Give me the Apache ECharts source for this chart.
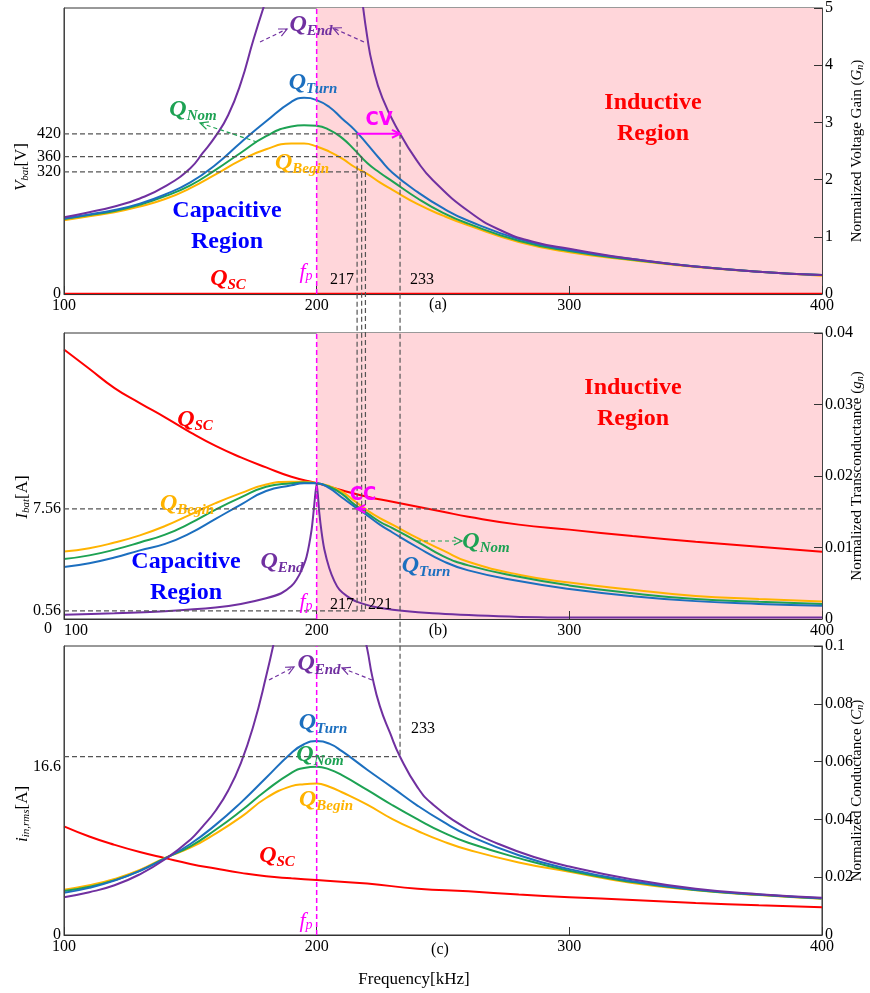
<!DOCTYPE html>
<html>
<head>
<meta charset="utf-8">
<title>Gain / transconductance / conductance vs frequency</title>
<script src="https://cdn.jsdelivr.net/npm/echarts@6.0.0/dist/echarts.min.js"></script>
<style>html,body{margin:0;padding:0;background:#fff;}</style>
</head>
<body>
<div id="main" style="width:870px;height:993px;"></div>
<script>
// ---- values ----
// panel (a): normalized voltage gain Gn
var freqA      = [100,110,120,130,140,150,160,170,180,190,195,200,205,210,215,220,225,230,240,250,260,280,300,325,350,375,400];
var gainTurnA  = [1.32,1.39,1.47,1.58,1.74,1.95,2.26,2.65,3.02,3.36,3.43,3.39,3.27,3.07,2.87,2.62,2.36,2.12,1.78,1.50,1.28,0.96,0.77,0.61,0.48,0.39,0.33];
var gainNomA   = [1.31,1.38,1.45,1.56,1.71,1.90,2.17,2.47,2.76,2.93,2.95,2.94,2.87,2.73,2.52,2.29,2.12,1.97,1.67,1.42,1.23,0.93,0.75,0.60,0.48,0.39,0.33];
var gainBeginA = [1.29,1.36,1.43,1.53,1.66,1.85,2.09,2.34,2.53,2.63,2.63,2.58,2.49,2.37,2.22,2.10,1.95,1.82,1.57,1.37,1.20,0.91,0.73,0.59,0.47,0.39,0.32];
var freqEndAL  = [100,110,120,130,140,150,155,160,165,170,175,180];
var gainEndAL  = [1.34,1.43,1.53,1.67,1.88,2.20,2.47,2.76,3.13,3.69,4.45,5.15];
var freqEndAR  = [218,220,222,226,233,240,246,260,273,286,300,325,350,375,400];
var gainEndAR  = [5.15,4.50,4.02,3.43,2.80,2.31,1.99,1.45,1.11,0.91,0.79,0.61,0.48,0.39,0.33];
var freqScA    = [100,400];
var gainScA    = [0,0];

// panel (b): normalized transconductance gn
var freqB      = [100,110,120,130,140,150,160,170,180,190,195,200,205,210,215,220,225,230,240,250,260,280,300,325,350,375,400];
var gnTurnB    = [0.00726,0.0078,0.0086,0.0096,0.0105,0.0120,0.0140,0.0160,0.0179,0.0187,0.0190,0.0190,0.0183,0.0170,0.0157,0.0145,0.0132,0.0121,0.0100,0.0081,0.0068,0.0053,0.0042,0.0032,0.0025,0.0021,0.00185];
var gnNomB     = [0.00838,0.0089,0.0097,0.0107,0.0118,0.0134,0.0153,0.0170,0.0185,0.0190,0.0191,0.0190,0.0185,0.0175,0.0160,0.0148,0.0136,0.0127,0.0108,0.0088,0.0075,0.0059,0.0047,0.0036,0.0028,0.0024,0.0021];
var gnBeginB   = [0.00944,0.0099,0.0107,0.0117,0.0130,0.0146,0.0162,0.0176,0.0188,0.0192,0.0192,0.0190,0.0186,0.0178,0.0165,0.0152,0.0141,0.0132,0.0113,0.0096,0.0080,0.0062,0.0051,0.0041,0.0032,0.0028,0.00245];
var freqEndB   = [100,120,140,160,170,180,186,190,192,194,196,198,199,200,201,202,203,205,207,209,212,216,226,246,272,300,350,400];
var gnEndB     = [0.0006,0.0008,0.0011,0.0016,0.0021,0.0029,0.0036,0.0046,0.0055,0.0068,0.0087,0.0125,0.0158,0.0190,0.0150,0.0120,0.0098,0.0071,0.0053,0.0041,0.0032,0.0024,0.0015,0.0008,0.0004,0.0002,0.0002,0.0002];
var freqScB    = [100,110,120,130,140,150,160,170,180,190,200,210,220,230,240,250,260,280,300,325,350,375,400];
var gnScB      = [0.0377,0.0350,0.0323,0.0302,0.0282,0.0261,0.0242,0.0226,0.0212,0.0199,0.0190,0.0180,0.0171,0.0164,0.0157,0.0150,0.0143,0.0132,0.0125,0.0116,0.0108,0.0101,0.0094];

// panel (c): normalized conductance Cn
var freqC      = [100,110,120,130,140,150,160,170,180,190,195,200,205,210,220,230,240,250,260,280,300,325,350,375,400];
var cnTurnC    = [0.0146,0.0163,0.0188,0.0222,0.0264,0.0315,0.0381,0.0458,0.0544,0.0630,0.0660,0.0671,0.0662,0.0636,0.0572,0.0510,0.0447,0.0392,0.0345,0.0276,0.0228,0.0186,0.0157,0.0140,0.0127];
var cnNomC     = [0.0152,0.0167,0.0190,0.0222,0.0266,0.0307,0.0364,0.0429,0.0500,0.0561,0.0578,0.0582,0.0573,0.0553,0.0502,0.0449,0.0400,0.0355,0.0319,0.0266,0.0222,0.0183,0.0156,0.0139,0.0126];
var cnBeginC   = [0.0157,0.0172,0.0194,0.0225,0.0267,0.0302,0.0351,0.0408,0.0474,0.0515,0.0522,0.0524,0.0513,0.0494,0.0451,0.0401,0.0360,0.0324,0.0295,0.0251,0.0219,0.0180,0.0155,0.0138,0.0125];
var freqEndCL  = [100,110,120,130,140,150,155,160,165,170,175,180,184];
var cnEndCL    = [0.0131,0.0148,0.0172,0.0210,0.0262,0.0330,0.0377,0.0430,0.0500,0.0595,0.0725,0.0895,0.1050];
var freqEndCR  = [218,220,222,225,229,233,240,246,260,272,286,300,325,350,375,400];
var cnEndCR    = [0.1060,0.0990,0.0895,0.0792,0.0700,0.0617,0.0510,0.0452,0.0365,0.0315,0.0270,0.0237,0.0192,0.0160,0.0141,0.0129];
var freqScC    = [100,110,120,130,140,150,160,170,180,190,200,220,240,260,280,300,325,350,375,400];
var cnScC      = [0.0376,0.0341,0.0312,0.0287,0.0266,0.0246,0.0230,0.0215,0.0203,0.0196,0.0190,0.0178,0.0160,0.0151,0.0140,0.0131,0.0121,0.0111,0.0103,0.0096];

// operating points
var fp = 200;
var vbatTicks = [0, 320, 360, 420];
var crossFreqs = [216, 217.8, 219.3];   // where 420 / 360 / 320 V are met
var crossVolts = [420, 360, 320];
var fEnd = 233;
var ibatTicks = [0.56, 7.56];
var iinTick = 16.6;

// left-axis full scales (same grid height as the right axes)
var vbatMax = 750, ibatMax = 19.63, iinMax = 26.9;

var COL = {end: '#7030A0', turn: '#1C6FBF', nom: '#1DA253', begin: '#FFB300', sc: '#FF0000'};
var FONT = "'Liberation Serif', 'Times New Roman', serif";
var NARROW = "'Liberation Sans Narrow', 'DejaVu Sans Condensed', sans-serif";
var PINK = '#FFD6DA';

var chart = echarts.init(document.getElementById('main'));

function pairs(xs, ys) {
    return xs.map(function (x, i) { return [x, ys[i]]; });
}

function curve(g, xs, ys, color, extra) {
    var s = {
        type: 'line', xAxisIndex: g, yAxisIndex: 2 * g + 1,
        data: pairs(xs, ys), showSymbol: false, silent: true,
        smooth: 0.5,
        lineStyle: {color: color, width: 2}, itemStyle: {color: color}
    };
    return Object.assign(s, extra || {});
}

var pinkArea = {
    silent: true, itemStyle: {color: PINK},
    data: [[{xAxis: fp}, {xAxis: 400}]]
};

var grids = [
    {left: 64, right: 48, top: 8, height: 286},
    {left: 64, right: 48, top: 333, height: 286},
    {left: 64, right: 48, top: 646, height: 289}
];

function xAx(g, alignMin) {
    return {
        type: 'value', gridIndex: g, min: 100, max: 400, interval: 100, z: 5,
        axisLine: {lineStyle: {color: '#333', width: 1}},
        axisTick: {inside: true, length: 8, lineStyle: {color: '#333'}},
        axisLabel: {color: '#000', fontSize: 16, fontFamily: FONT, margin: 4, alignMinLabel: alignMin || null},
        splitLine: {show: false}
    };
}

function leftAx(g, max, values, fmt) {
    return {
        type: 'value', gridIndex: g, position: 'left', min: 0, max: max, z: 5,
        axisLine: {show: true, lineStyle: {color: '#444'}},
        axisTick: {show: false},
        splitLine: {show: false},
        axisLabel: {customValues: values, color: '#000', fontSize: 16, fontFamily: FONT, margin: 3,
            formatter: fmt, rich: {d: {fontSize: 16, fontFamily: FONT, color: '#000', padding: [20, 0, 0, 0]}}}
    };
}

function rightAx(g, max, interval, name) {
    return {
        type: 'value', gridIndex: g, position: 'right', min: 0, max: max, interval: interval, z: 5,
        axisLine: {show: true, lineStyle: {color: '#444'}},
        axisTick: {show: true, inside: true, length: 8, lineStyle: {color: '#333'}},
        splitLine: {show: false},
        axisLabel: {color: '#000', fontSize: 16, fontFamily: FONT, margin: 3},
        name: name, nameLocation: 'middle', nameRotate: 90, nameGap: 28, nameMoveOverlap: false,
        nameTextStyle: {
            color: '#000', fontSize: 15, fontFamily: FONT,
            rich: {
                i: {fontSize: 15, fontFamily: FONT, fontStyle: 'italic', color: '#000'},
                s: {fontSize: 10, fontFamily: FONT, fontStyle: 'italic', color: '#000', verticalAlign: 'bottom'}
            }
        }
    };
}

var option = {
    animation: false,
    backgroundColor: '#fff',
    grid: grids.map(function (g) {
        return Object.assign({show: true, borderColor: '#333', borderWidth: 1, backgroundColor: 'transparent',
            containLabel: false, outerBoundsMode: 'none'}, g);
    }),
    xAxis: [xAx(0), xAx(1, 'left'), xAx(2)],
    yAxis: [
        leftAx(0, vbatMax, vbatTicks),
        rightAx(0, 5, 1, 'Normalized Voltage Gain ({i|G}{s|n})'),
        leftAx(1, ibatMax, ibatTicks),
        rightAx(1, 0.04, 0.01, 'Normalized Transconductance ({i|g}{s|n})'),
        leftAx(2, iinMax, [0, iinTick], function (v) { return v === iinTick ? '{d|' + v + '}' : String(v); }),
        rightAx(2, 0.1, 0.02, 'Normalized Conductance ({i|C}{s|n})')
    ],
    series: [
        curve(0, freqScA, gainScA, COL.sc, {smooth: false, lineStyle: {color: COL.sc, width: 2.5}, markArea: pinkArea}),
        curve(0, freqA, gainBeginA, COL.begin),
        curve(0, freqA, gainNomA, COL.nom),
        curve(0, freqA, gainTurnA, COL.turn),
        curve(0, freqEndAL, gainEndAL, COL.end),
        curve(0, freqEndAR, gainEndAR, COL.end),

        curve(1, freqScB, gnScB, COL.sc, {markArea: pinkArea}),
        curve(1, freqB, gnBeginB, COL.begin),
        curve(1, freqB, gnNomB, COL.nom),
        curve(1, freqB, gnTurnB, COL.turn),
        curve(1, freqEndB, gnEndB, COL.end, {smooth: 0.25}),

        curve(2, freqScC, cnScC, COL.sc),
        curve(2, freqC, cnBeginC, COL.begin),
        curve(2, freqC, cnNomC, COL.nom),
        curve(2, freqC, cnTurnC, COL.turn),
        curve(2, freqEndCL, cnEndCL, COL.end),
        curve(2, freqEndCR, cnEndCR, COL.end)
    ]
};
chart.setOption(option);

// ---- annotations ----
function px(g, left, f, v) {
    return chart.convertToPixel({xAxisIndex: g, yAxisIndex: left ? 2 * g : 2 * g + 1}, [f, v]);
}
var els = [];
function seg(p1, p2, color, w, dash, z) {
    els.push({type: 'line', z: z || 6, silent: true,
        shape: {x1: p1[0], y1: p1[1], x2: p2[0], y2: p2[1]},
        style: {stroke: color, lineWidth: w, lineDash: dash || null}});
}
function arrow(p1, p2, color, w, dash) {
    seg(p1, p2, color, w, dash, 8);
    var dx = p2[0] - p1[0], dy = p2[1] - p1[1], L = Math.sqrt(dx * dx + dy * dy);
    dx /= L; dy /= L;
    var h = 9, a = 0.45, pts = [];
    [a, -a].forEach(function (t, k) {
        var c = Math.cos(t), s = Math.sin(t);
        var rx = dx * c - dy * s, ry = dx * s + dy * c;
        pts.push([p2[0] - h * rx, p2[1] - h * ry]);
        if (k === 0) pts.push([p2[0], p2[1]]);
    });
    els.push({type: 'polyline', z: 8, silent: true, shape: {points: pts},
        style: {stroke: color, lineWidth: w, fill: null}});
}
function txt(x, y, text, st, rot) {
    els.push({type: 'text', x: x, y: y, z: 10, silent: true, rotation: rot || 0,
        style: Object.assign({text: text, fontFamily: FONT, fontSize: 16, fill: '#000',
            align: 'center', verticalAlign: 'middle'}, st || {})});
}
function qLabel(x, y, sub, color) {
    txt(x, y, '{q|Q}{s|' + sub + '}', {fill: color, rich: {
        q: {fontFamily: FONT, fontSize: 24, fontStyle: 'italic', fontWeight: 'bold', fill: color, padding: [0, 0, 2, 0]},
        s: {fontFamily: FONT, fontSize: 15, fontStyle: 'italic', fontWeight: 'bold', fill: color, verticalAlign: 'bottom'}
    }});
}
function fpLabel(x, y) {
    txt(x, y, '{f|f}{s|p}', {fill: '#FF00FF', rich: {
        f: {fontFamily: FONT, fontSize: 22, fontStyle: 'italic', fill: '#FF00FF'},
        s: {fontFamily: FONT, fontSize: 14, fontStyle: 'italic', fill: '#FF00FF', verticalAlign: 'bottom'}
    }});
}
function regionLabel(x, y, word, color) {
    txt(x, y, word + '\nRegion', {fill: color, fontSize: 24, fontWeight: 'bold', lineHeight: 31});
}
function leftName(x, y, main, sub, unit) {
    txt(x, y, '{i|' + main + '}{s|' + sub + '}{n|' + unit + '}', {rich: {
        i: {fontFamily: FONT, fontSize: 17, fontStyle: 'italic', fill: '#000'},
        s: {fontFamily: FONT, fontSize: 11, fontStyle: 'italic', fill: '#000', verticalAlign: 'bottom'},
        n: {fontFamily: FONT, fontSize: 17, fill: '#000'}
    }}, Math.PI / 2);
}

var DASH = [5, 3], GREY = '#555';
// fp lines
[[0, 5], [1, 0.04], [2, 0.1]].forEach(function (g) {
    seg(px(g[0], false, fp, 0), px(g[0], false, fp, g[1]), '#FF00FF', 1.5, [5, 3]);
});
// panel a horizontals + verticals down to 0.56 A in panel b
crossFreqs.forEach(function (f, i) {
    seg(px(0, true, 100, crossVolts[i]), px(0, true, f, crossVolts[i]), GREY, 1.2, DASH);
    seg(px(0, true, f, crossVolts[i]), px(1, true, f, ibatTicks[0]), GREY, 1.2, DASH);
});
seg(px(0, true, fEnd, crossVolts[0]), px(2, true, fEnd, iinTick), GREY, 1.2, DASH);
seg(px(1, true, 100, ibatTicks[1]), px(1, true, 400, ibatTicks[1]), GREY, 1.2, DASH);
seg(px(1, true, 100, ibatTicks[0]), px(1, true, crossFreqs[2], ibatTicks[0]), GREY, 1.2, DASH);
seg(px(2, true, 100, iinTick), px(2, true, fEnd, iinTick), GREY, 1.2, DASH);

// CV / CC arrows
arrow(px(0, true, crossFreqs[0], crossVolts[0]), px(0, true, fEnd, crossVolts[0]), '#FF00FF', 2);
arrow(px(1, true, 219.5, ibatTicks[1]), px(1, true, 216, ibatTicks[1]), '#FF00FF', 2);
txt(379, 120, 'CV', {fill: '#FF00FF', fontFamily: NARROW, fontSize: 20, fontWeight: 'bold'});
txt(363, 495, 'CC', {fill: '#FF00FF', fontFamily: NARROW, fontSize: 20, fontWeight: 'bold'});

// pointer arrows to labels
arrow([260, 42], [287, 29], COL.end, 1.2, [4, 3]);
arrow([364, 42], [333, 28], COL.end, 1.2, [4, 3]);
arrow([257, 142], [200, 123], COL.nom, 1.2, [4, 3]);
arrow([417, 541], [462, 541], COL.nom, 1.2, [4, 3]);
arrow([269, 680], [294, 667], COL.end, 1.2, [4, 3]);
arrow([372, 680], [342, 668], COL.end, 1.2, [4, 3]);

// panel a labels
qLabel(311, 26, 'End', COL.end);
qLabel(313, 84, 'Turn', COL.turn);
qLabel(193, 111, 'Nom', COL.nom);
qLabel(302, 164, 'Begin', COL.begin);
qLabel(228, 280, 'SC', COL.sc);
regionLabel(227, 226, 'Capacitive', '#0000FF');
regionLabel(653, 118, 'Inductive', '#FF0000');
fpLabel(306, 272);
txt(342, 280, '217');
txt(422, 280, '233');
txt(438, 305, '(a)');

// panel b labels
qLabel(195, 421, 'SC', COL.sc);
qLabel(187, 505, 'Begin', COL.begin);
qLabel(282, 563, 'End', COL.end);
qLabel(486, 543, 'Nom', COL.nom);
qLabel(426, 567, 'Turn', COL.turn);
regionLabel(186, 577, 'Capacitive', '#0000FF');
regionLabel(633, 403, 'Inductive', '#FF0000');
fpLabel(306, 602);
txt(342, 605, '217');
txt(380, 605, '221');
txt(438, 631, '(b)');
txt(48, 629, '0');

// panel c labels
qLabel(319, 665, 'End', COL.end);
qLabel(323, 724, 'Turn', COL.turn);
qLabel(320, 756, 'Nom', COL.nom);
qLabel(326, 801, 'Begin', COL.begin);
qLabel(277, 857, 'SC', COL.sc);
fpLabel(306, 921);
txt(423, 729, '233');
txt(440, 950, '(c)');
txt(414, 980, 'Frequency[kHz]', {fontSize: 17});

// left axis names
leftName(22, 167, 'V', 'bat', '[V]');
leftName(23, 497, 'I', 'bat', '[A]');
leftName(23, 814, 'i', 'in,rms', '[A]');

chart.setOption({graphic: {elements: els}});
</script>
</body>
</html>
